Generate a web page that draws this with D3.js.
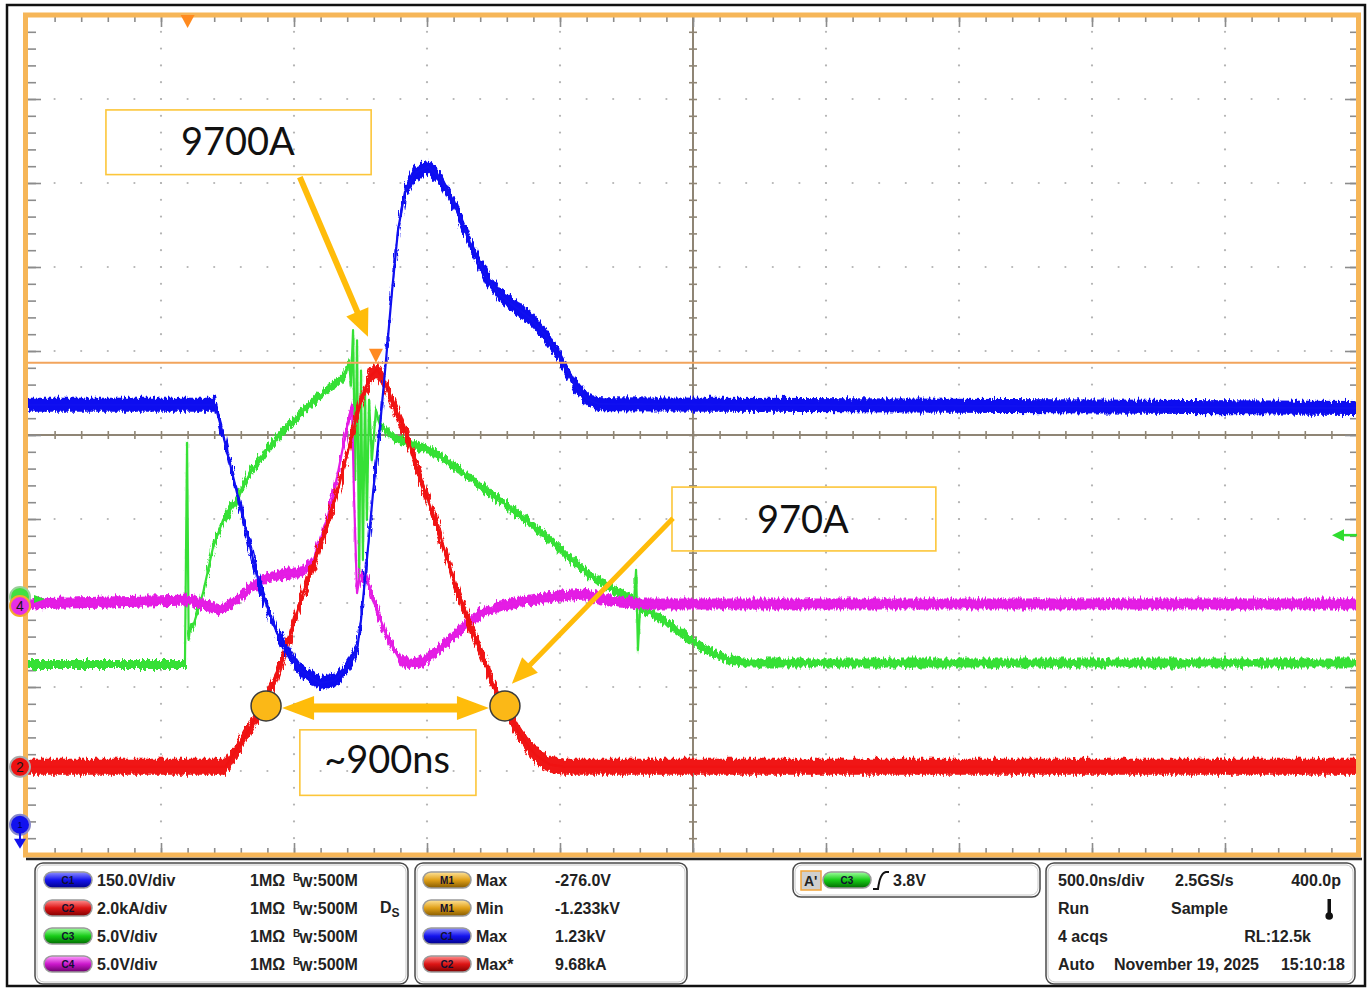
<!DOCTYPE html>
<html>
<head>
<meta charset="utf-8">
<script src="https://cdn.jsdelivr.net/npm/d3@7"></script>
<style>
body { margin: 0; background: #fff; }
svg { display: block; }
.panel text { font-family: "Liberation Sans", Arial, sans-serif; font-weight: bold; font-size: 16px; fill: #222; }
.note { font-family: Lato, "Open Sans", sans-serif; font-size: 38px; fill: #111; }
</style>
</head>
<body>
<script>
// ---- waveform data (time in ns from trigger, value in channel units) ----
var c1Volts = [[-600,804],[103,804],[129,759],[186,646],[235,550],[272,479],[336,396],[423,330],[498,307],[554,312],[599,336],[637,366],[652,420],[674,527],[697,646],[723,764],[746,884],[769,1009],[791,1116],[817,1184],[855,1218],[904,1229],[949,1209],[1005,1161],[1062,1093],[1126,1030],[1174,1000],[1231,979],[1287,959],[1344,929],[1400,889],[1456,839],[1505,813],[1550,805],[3054,802],[4400,798]];

var c2KiloAmps = [[-600,0],[141,0],[167,0.24],[204,0.6],[242,1.02],[280,1.43],[329,2.07],[374,2.9],[434,4.14],[498,5.24],[562,6.52],[611,7.71],[648,8.67],[686,9.29],[712,9.45],[735,9.24],[772,8.67],[825,7.86],[874,6.9],[949,5.52],[1024,3.98],[1099,2.79],[1156,1.83],[1193,1.4],[1250,0.76],[1306,0.29],[1362,0.05],[1419,0],[4400,0]];

var c3Volts = [[-600,-3.9],[-10,-3.9],[-2,9.3],[4,-2.44],[9,-1.73],[20,-1.67],[58,0.36],[96,3.1],[133,4.7],[186,5.89],[235,7.5],[298,8.87],[374,10.24],[449,11.43],[524,12.44],[573,13.04],[596,13.45],[607,14.2],[614,12.7],[622,16.0],[630,7.08],[637,15.4],[645,1.13],[652,13.6],[659,2.32],[667,12.44],[674,4.7],[682,11.85],[693,8.27],[708,11.25],[723,10.36],[772,9.64],[874,9.05],[911,8.87],[986,8.1],[1062,7.2],[1137,6.31],[1212,5.42],[1287,4.52],[1362,3.51],[1438,2.44],[1513,1.43],[1588,0.65],[1663,0.06],[1678,-0.18],[1686,1.73],[1693,-3.04],[1701,-0.54],[1738,-0.77],[1814,-1.55],[1889,-2.44],[1964,-3.15],[2039,-3.63],[2114,-3.81],[4400,-3.81]];

var c4Volts = [[-600,0],[9,0.24],[65,-0.06],[122,-0.36],[186,0.24],[235,0.95],[298,1.55],[374,1.85],[423,1.85],[471,2.5],[524,5.0],[562,7.56],[599,10.54],[618,11.85],[626,6.2],[637,0.65],[648,1.73],[674,1.55],[697,0.24],[750,-1.96],[798,-3.33],[847,-3.57],[892,-3.33],[949,-2.62],[1024,-1.55],[1099,-0.6],[1174,-0.12],[1287,0.24],[1400,0.48],[1494,0.6],[1588,0.18],[1701,0],[4400,0]];

// ---- readout texts ----
var chanNames = ["C1", "C2", "C3", "C4"];
var chanScaleText = ["150.0V/div", "2.0kA/div", "5.0V/div", "5.0V/div"];
var measSources = ["M1", "M1", "C1", "C2"];
var measNames = ["Max", "Min", "Max", "Max*"];
var measValues = ["-276.0V", "-1.233kV", "1.23kV", "9.68kA"];

// annotation anchors (ns, kA on C2)
var pulseMarkNs = [295, 1193];
var pulseMarkKA = 1.45;
var cursorKA = 9.62;
var cursorNs = 708;
var trigLevelV = 3.8;

// channel vertical settings
var chans = {
	c1: {perDiv: 150, offset: -5,     color: "#1010f0", noise: 7},
	c2: {perDiv: 2,   offset: -3.95,  color: "#f01212", noise: 8},
	c3: {perDiv: 5,   offset: -1.952, color: "#36e036", noise: 4.5},
	c4: {perDiv: 5,   offset: -2.012, color: "#e41ee4", noise: 5.5}
};

var x = d3.scaleLinear().domain([-600, 4400]).range([28, 1358]);
var ydiv = d3.scaleLinear().domain([-5, 5]).range([855, 15]);

function yOf(ch, v) { return ydiv(ch.offset + v / ch.perDiv); }

var svg = d3.select("body").append("svg")
	.attr("width", 1371)
	.attr("height", 988);

var defs = svg.append("defs");
var pillColors = {
	blue: ["#9090ff", "#1414ee", "#00008a"],
	red: ["#ff9090", "#dd1515", "#800000"],
	green: ["#a0ffa0", "#18cc18", "#006a00"],
	magenta: ["#ffa0ff", "#cc18cc", "#6a006a"],
	gold: ["#ffe49a", "#e0a018", "#855a00"]
};
Object.keys(pillColors).forEach(function(k){
	var g = defs.append("linearGradient").attr("id", "grad-" + k)
		.attr("x1", 0).attr("y1", 0).attr("x2", 0).attr("y2", 1);
	g.append("stop").attr("offset", "0%").attr("stop-color", pillColors[k][0]);
	g.append("stop").attr("offset", "50%").attr("stop-color", pillColors[k][1]);
	g.append("stop").attr("offset", "100%").attr("stop-color", pillColors[k][2]);
});

// rough edge on the noise bands
var rough = defs.append("filter").attr("id", "rough")
	.attr("x", "-2%").attr("y", "-10%").attr("width", "104%").attr("height", "120%");
rough.append("feTurbulence").attr("type", "fractalNoise")
	.attr("baseFrequency", "0.45 0.08").attr("numOctaves", 2).attr("seed", 3).attr("result", "turb");
rough.append("feDisplacementMap").attr("in", "SourceGraphic").attr("in2", "turb")
	.attr("scale", 9).attr("xChannelSelector", "A").attr("yChannelSelector", "R");

svg.append("rect").attr("width", 1371).attr("height", 988).attr("fill", "#fff");

// ---- graticule ----
var majorX = d3.range(-600, 4401, 500);
var minorX = d3.range(-600, 4401, 100);
var majorY = d3.range(-5, 6, 1);
var minorY = d3.range(0, 51).map(function(i){ return -5 + i * 0.2; });

var grid = svg.append("g").attr("class", "grid");
var dots = [];
majorX.slice(1, -1).forEach(function(t){
	if (t == 1900) return;
	minorY.slice(1, -1).forEach(function(v){ dots.push([x(t), ydiv(v)]); });
});
majorY.slice(1, -1).forEach(function(v){
	if (v == 0) return;
	minorX.slice(1, -1).forEach(function(t){ dots.push([x(t), ydiv(v)]); });
});
grid.selectAll("circle")
	.data(dots)
	.join("circle")
	.attr("cx", function(d){ return d[0]; })
	.attr("cy", function(d){ return d[1]; })
	.attr("r", 1.1)
	.attr("fill", "#b4b4b4");

// center cross
grid.append("line").attr("x1", x(1900)).attr("x2", x(1900)).attr("y1", 15).attr("y2", 855)
	.attr("stroke", "#8f8575").attr("stroke-width", 2);
grid.append("line").attr("x1", 28).attr("x2", 1358).attr("y1", ydiv(0)).attr("y2", ydiv(0))
	.attr("stroke", "#8f8575").attr("stroke-width", 2);

function tickAxis(axis, transform, color) {
	var g = grid.append("g").attr("transform", transform).call(axis);
	g.select(".domain").remove();
	g.selectAll("line").attr("stroke", color).attr("stroke-width", 1.6);
	g.selectAll("text").remove();
}
var innerMinorX = minorX.slice(1, -1), innerMinorY = minorY.slice(1, -1);
// center ticks
tickAxis(d3.axisTop(x).tickValues(innerMinorX).tickSize(4), "translate(0," + ydiv(0) + ")", "#8f8575");
tickAxis(d3.axisBottom(x).tickValues(innerMinorX).tickSize(4), "translate(0," + ydiv(0) + ")", "#8f8575");
tickAxis(d3.axisLeft(ydiv).tickValues(innerMinorY).tickSize(4), "translate(" + x(1900) + ",0)", "#8f8575");
tickAxis(d3.axisRight(ydiv).tickValues(innerMinorY).tickSize(4), "translate(" + x(1900) + ",0)", "#8f8575");
// edge ticks
tickAxis(d3.axisBottom(x).tickValues(innerMinorX).tickSize(7), "translate(0,15)", "#8c8c8c");
tickAxis(d3.axisBottom(x).tickValues(majorX.slice(1, -1)).tickSize(12), "translate(0,15)", "#8c8c8c");
tickAxis(d3.axisTop(x).tickValues(innerMinorX).tickSize(7), "translate(0,855)", "#8c8c8c");
tickAxis(d3.axisTop(x).tickValues(majorX.slice(1, -1)).tickSize(12), "translate(0,855)", "#8c8c8c");
tickAxis(d3.axisRight(ydiv).tickValues(innerMinorY).tickSize(8), "translate(28,0)", "#8c8c8c");
tickAxis(d3.axisRight(ydiv).tickValues(majorY.slice(1, -1)).tickSize(13), "translate(28,0)", "#8c8c8c");
tickAxis(d3.axisLeft(ydiv).tickValues(innerMinorY).tickSize(8), "translate(1358,0)", "#8c8c8c");
tickAxis(d3.axisLeft(ydiv).tickValues(majorY.slice(1, -1)).tickSize(13), "translate(1358,0)", "#8c8c8c");

// ---- traces ----
var traces = svg.append("g").attr("class", "traces");
function drawTrace(data, ch) {
	var band = d3.area()
		.x(function(d){ return x(d[0]); })
		.y0(function(d){ return yOf(ch, d[1]) - ch.noise; })
		.y1(function(d){ return yOf(ch, d[1]) + ch.noise; });
	var core = d3.line()
		.x(function(d){ return x(d[0]); })
		.y(function(d){ return yOf(ch, d[1]); });
	traces.append("path").datum(data).attr("d", band)
		.attr("fill", ch.color).attr("filter", "url(#rough)");
	traces.append("path").datum(data).attr("d", core)
		.attr("fill", "none").attr("stroke", ch.color).attr("stroke-width", 2.2)
		.attr("stroke-linejoin", "round");
}
drawTrace(c3Volts, chans.c3);
drawTrace(c4Volts, chans.c4);
drawTrace(c2KiloAmps, chans.c2);
drawTrace(c1Volts, chans.c1);

// cursor line + markers
var cy = yOf(chans.c2, cursorKA);
svg.append("line").attr("x1", 28).attr("x2", 1358).attr("y1", cy).attr("y2", cy)
	.attr("stroke", "#f2a45c").attr("stroke-width", 2);
svg.append("path")
	.attr("d", "M" + (x(cursorNs) - 7) + "," + (cy - 14) + "L" + (x(cursorNs) + 7) + "," + (cy - 14) + "L" + x(cursorNs) + "," + cy + "Z")
	.attr("fill", "#ff8a22");

// border
svg.append("rect").attr("x", 25.5).attr("y", 15).attr("width", 1333).attr("height", 840)
	.attr("fill", "none").attr("stroke", "#f6b658").attr("stroke-width", 5);
svg.append("path")
	.attr("d", "M" + (x(0) - 7) + ",15L" + (x(0) + 7) + ",15L" + x(0) + ",28Z")
	.attr("fill", "#ff8a1e");

// left channel markers
var marks = svg.append("g");
function chanBadge(cyy, fill, ring, label) {
	marks.append("circle").attr("cx", 20).attr("cy", cyy).attr("r", 10)
		.attr("fill", fill).attr("stroke", ring).attr("stroke-width", 2);
	marks.append("text").attr("x", 20).attr("y", cyy + 5).attr("text-anchor", "middle")
		.attr("font-family", "Liberation Sans, Arial, sans-serif").attr("font-size", 14)
		.attr("fill", "#1a1a1a").text(label);
}
var c3y = yOf(chans.c3, 0), c4y = yOf(chans.c4, 0);
chanBadge(c3y - 2, "#40e040", "#9ad09a", "");
chanBadge(c4y + 2, "#e62ee6", "#f5a82e", "4");
marks.append("path").attr("d", "M34," + (c3y - 4) + "L45," + c3y + "L34," + (c3y + 4) + "Z").attr("fill", "#30dd30");
chanBadge(yOf(chans.c2, 0), "#ee1111", "#aaaaaa", "2");
chanBadge(ydiv(-4.64), "#1212ee", "#8888cc", "");
marks.append("text").attr("x", 20).attr("y", ydiv(-4.64) + 3).attr("text-anchor", "middle")
	.attr("font-family", "Liberation Sans, Arial, sans-serif").attr("font-size", 9).attr("fill", "#000050").text("1");
marks.append("path").attr("d", "M14," + (ydiv(-4.64) + 14) + "L26," + (ydiv(-4.64) + 14) + "L20," + (ydiv(-4.64) + 24) + "Z").attr("fill", "#1212ee");
marks.append("line").attr("x1", 20).attr("x2", 20).attr("y1", ydiv(-4.64) + 8).attr("y2", ydiv(-4.64) + 16).attr("stroke", "#1212ee").attr("stroke-width", 2);

// trigger level arrow on right
var ty = yOf(chans.c3, trigLevelV);
marks.append("path").attr("d", "M1332," + ty + "L1344," + (ty - 6) + "L1344," + (ty + 6) + "Z").attr("fill", "#30dd30");
marks.append("line").attr("x1", 1342).attr("x2", 1357).attr("y1", ty).attr("y2", ty).attr("stroke", "#30dd30").attr("stroke-width", 2.5);

// ---- annotations ----
function arrowPoly(x1, y1, x2, y2, shaft, headLen, headHalf, both) {
	var dx = x2 - x1, dy = y2 - y1, L = Math.sqrt(dx * dx + dy * dy);
	var ux = dx / L, uy = dy / L, nx = -uy, ny = ux, s = shaft / 2;
	function P(a, b){ return [x1 + ux * a + nx * b, y1 + uy * a + ny * b]; }
	var pts;
	if (!both) pts = [P(0, -s), P(L - headLen, -s), P(L - headLen, -headHalf), P(L, 0), P(L - headLen, headHalf), P(L - headLen, s), P(0, s)];
	else pts = [P(0, 0), P(headLen, -headHalf), P(headLen, -s), P(L - headLen, -s), P(L - headLen, -headHalf), P(L, 0),
		P(L - headLen, headHalf), P(L - headLen, s), P(headLen, s), P(headLen, headHalf)];
	return "M" + pts.map(function(p){ return p.join(","); }).join("L") + "Z";
}
var notes = svg.append("g");
var gold = "#ffbc0a";
function noteBox(t0, t1, d0, d1, label, tx, tb) {
	notes.append("rect").attr("x", x(t0)).attr("y", ydiv(d0))
		.attr("width", x(t1) - x(t0)).attr("height", ydiv(d1) - ydiv(d0))
		.attr("fill", "none").attr("stroke", "#fcc63a").attr("stroke-width", 1.6);
	notes.append("text").attr("class", "note").attr("x", x(tx)).attr("y", ydiv(tb))
		.attr("text-anchor", "middle").text(label);
}
noteBox(-307, 690, 3.87, 3.10, "9700A", 189, 3.33);
noteBox(1821, 2813, -0.62, -1.38, "970A", 2313, -1.17);
noteBox(422, 1084, -3.51, -4.29, "~900ns", 750, -4.02);

notes.append("path").attr("d", arrowPoly(x(422), ydiv(3.07), x(678), ydiv(1.17), 6, 27, 12)).attr("fill", gold);
notes.append("path").attr("d", arrowPoly(x(1825), ydiv(-0.99), x(1219), ydiv(-2.96), 5, 26, 11)).attr("fill", gold);

var my = yOf(chans.c2, pulseMarkKA);
var ax0 = x(pulseMarkNs[0]) + 16, ax1 = x(pulseMarkNs[1]) - 16;
notes.append("path").attr("d", arrowPoly(ax0, my + 2, ax1, my + 2, 9, 32, 12, true)).attr("fill", gold);
notes.selectAll(".pmark")
	.data(pulseMarkNs)
	.join("circle")
	.attr("class", "pmark")
	.attr("cx", function(d){ return x(d); })
	.attr("cy", my)
	.attr("r", 15)
	.attr("fill", "#fbb817")
	.attr("stroke", "#3a3a3a")
	.attr("stroke-width", 1.5);

// ---- outer frame and bottom panel ----
svg.append("line").attr("x1", 26).attr("x2", 1362).attr("y1", 859).attr("y2", 859)
	.attr("stroke", "#222").attr("stroke-width", 2.5);
svg.append("rect").attr("x", 7).attr("y", 5).attr("width", 1358).attr("height", 981)
	.attr("fill", "none").attr("stroke", "#111").attr("stroke-width", 2.5);

var panel = svg.append("g").attr("class", "panel");
function panelBox(x0, y0, w, h) {
	panel.append("rect").attr("x", x0).attr("y", y0).attr("width", w).attr("height", h).attr("rx", 8)
		.attr("fill", "#fff").attr("stroke", "#4a4a4a").attr("stroke-width", 1.5);
	panel.append("rect").attr("x", x0 + 2).attr("y", y0 + 2).attr("width", w - 4).attr("height", h - 4).attr("rx", 7)
		.attr("fill", "none").attr("stroke", "#c8c8c8").attr("stroke-width", 1);
}
panelBox(35, 863, 373, 121);
panelBox(415, 863, 272, 121);
panelBox(793, 863, 247, 34);
panelBox(1046, 863, 309, 121);

var rowY = [880, 908, 936, 964];
var pillKey = {C1: "blue", C2: "red", C3: "green", C4: "magenta", M1: "gold"};
function pill(cx, cyy, label) {
	panel.append("rect").attr("x", cx - 24).attr("y", cyy - 8).attr("width", 48).attr("height", 16).attr("rx", 8)
		.attr("fill", "url(#grad-" + pillKey[label] + ")").attr("stroke", "#9a9a9a").attr("stroke-width", 1.5);
	panel.append("text").attr("x", cx).attr("y", cyy + 3.5).attr("text-anchor", "middle")
		.style("font-size", "10px").style("fill", "#101030").text(label);
}
chanNames.forEach(function(c, i){
	pill(68, rowY[i], c);
	panel.append("text").attr("x", 97).attr("y", rowY[i] + 6).text(chanScaleText[i]);
	panel.append("text").attr("x", 250).attr("y", rowY[i] + 6).text("1MΩ");
	var bw = panel.append("text").attr("x", 293).attr("y", rowY[i] + 6);
	bw.append("tspan").attr("dy", -5).style("font-size", "10px").text("B");
	bw.append("tspan").attr("dx", -1).attr("dy", 6).style("font-size", "14px").text("W");
	bw.append("tspan").attr("dy", -1).text(":500M");
});
var ds = panel.append("text").attr("x", 380).attr("y", rowY[1] + 5);
ds.append("tspan").text("D");
ds.append("tspan").attr("dy", 4).style("font-size", "12px").text("S");

measSources.forEach(function(c, i){
	pill(447, rowY[i], c);
	panel.append("text").attr("x", 476).attr("y", rowY[i] + 6).text(measNames[i]);
	panel.append("text").attr("x", 555).attr("y", rowY[i] + 6).text(measValues[i]);
});

// trigger readout
panel.append("rect").attr("x", 801).attr("y", 871).attr("width", 20).attr("height", 19)
	.attr("fill", "#cfcfcf").attr("stroke", "#f2a53a").attr("stroke-width", 1.5);
panel.append("text").attr("x", 804).attr("y", 886).style("font-size", "14px").text("A'");
pill(847, rowY[0], "C3");
panel.append("path").attr("d", "M873,889L878,889Q880,873 886,872L889,872")
	.attr("fill", "none").attr("stroke", "#111").attr("stroke-width", 2);
panel.append("text").attr("x", 893).attr("y", rowY[0] + 6).text(trigLevelV.toFixed(1) + "V");

// acquisition readout
panel.append("text").attr("x", 1058).attr("y", rowY[0] + 6).text("500.0ns/div");
panel.append("text").attr("x", 1175).attr("y", rowY[0] + 6).text("2.5GS/s");
panel.append("text").attr("x", 1341).attr("y", rowY[0] + 6).attr("text-anchor", "end").text("400.0p");
panel.append("text").attr("x", 1058).attr("y", rowY[1] + 6).text("Run");
panel.append("text").attr("x", 1171).attr("y", rowY[1] + 6).text("Sample");
panel.append("rect").attr("x", 1327.5).attr("y", 899).attr("width", 3.5).attr("height", 15).attr("fill", "#111");
panel.append("circle").attr("cx", 1329.2).attr("cy", 916).attr("r", 3.8).attr("fill", "#111");
panel.append("text").attr("x", 1058).attr("y", rowY[2] + 6).text("4 acqs");
panel.append("text").attr("x", 1311).attr("y", rowY[2] + 6).attr("text-anchor", "end").text("RL:12.5k");
panel.append("text").attr("x", 1058).attr("y", rowY[3] + 6).text("Auto");
panel.append("text").attr("x", 1114).attr("y", rowY[3] + 6).text("November 19, 2025");
panel.append("text").attr("x", 1345).attr("y", rowY[3] + 6).attr("text-anchor", "end").text("15:10:18");
</script>
</body>
</html>
